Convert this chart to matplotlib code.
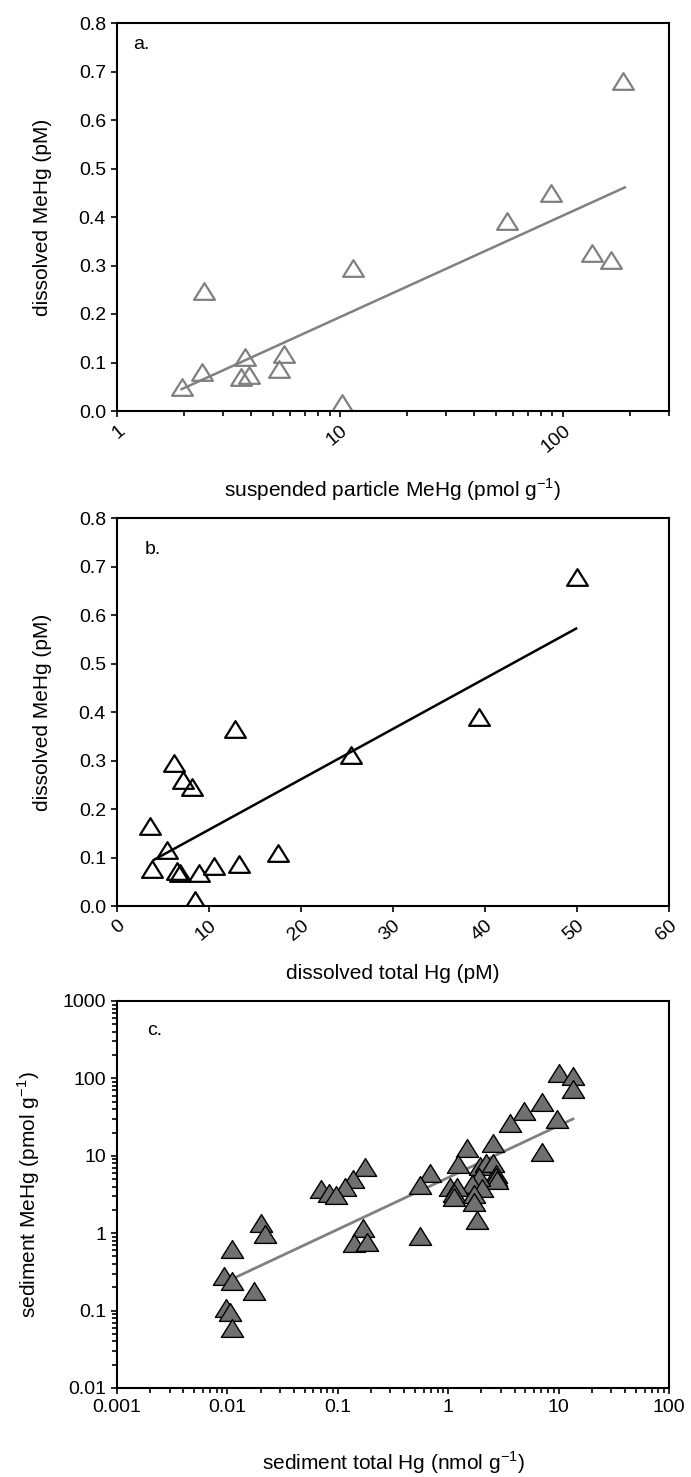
import numpy as np
import matplotlib
matplotlib.use("Agg")
import matplotlib.pyplot as plt
from matplotlib.path import Path
from matplotlib.ticker import LogLocator, FixedLocator, NullFormatter, FuncFormatter

plt.rcParams['font.family'] = ['Liberation Sans', 'DejaVu Sans']
plt.rcParams['mathtext.fontset'] = 'custom'
plt.rcParams['mathtext.rm'] = 'Liberation Sans'
plt.rcParams['axes.unicode_minus'] = False

# --- panel a: dissolved MeHg vs suspended particle MeHg ---
a_x = [187, 89, 56, 135, 165, 11.5, 2.45, 3.75, 5.6, 2.4, 3.6, 3.9, 5.35, 1.95, 10.2]
a_y = [0.680, 0.449, 0.392, 0.326, 0.311, 0.294, 0.247, 0.112, 0.117, 0.081, 0.071, 0.074, 0.086, 0.049, 0.016]
a_fit_x = [1.95, 190]
a_fit_y = [0.045, 0.461]

# --- panel b: dissolved MeHg vs dissolved total Hg ---
b_x = [50.0, 39.3, 12.8, 25.4, 6.2, 7.2, 8.2, 3.6, 5.4, 17.5, 3.8, 6.5, 6.8, 8.9, 10.5, 13.3, 8.5]
b_y = [0.679, 0.389, 0.364, 0.311, 0.294, 0.260, 0.246, 0.165, 0.115, 0.110, 0.076, 0.073, 0.069, 0.069, 0.082, 0.087, 0.012]
b_fit_x = [4.0, 49.9]
b_fit_y = [0.095, 0.572]

# --- panel c: sediment MeHg vs sediment total Hg ---
c_x = [10.1, 13.6, 13.5, 7.1, 4.87, 3.61, 9.6, 7.1, 2.56, 1.47, 1.22, 0.68, 0.55, 1.93, 2.18, 2.56,
       2.69, 2.72, 2.78, 1.90, 1.66, 2.04, 1.04, 1.21, 1.14, 1.14, 1.71, 1.72, 1.84, 0.55,
       0.178, 0.137, 0.116, 0.071, 0.083, 0.096, 0.0203, 0.0217, 0.011, 0.0093, 0.0111, 0.0175,
       0.0097, 0.0106, 0.011, 0.169, 0.141, 0.182]
c_y = [118, 107, 73, 50, 37.9, 26.3, 29.6, 11.1, 14.5, 12.5, 7.8, 6.05, 4.2, 7.45, 8.0, 8.0,
       5.8, 5.4, 4.9, 5.4, 4.3, 3.8, 3.9, 4.0, 3.3, 2.97, 3.2, 2.55, 1.48, 0.92,
       7.2, 4.97, 3.99, 3.69, 3.33, 3.12, 1.34, 0.98, 0.62, 0.28, 0.243, 0.181,
       0.107, 0.097, 0.059, 1.18, 0.74, 0.76]
c_fit_x = [0.0122, 13.5]
c_fit_y = [0.274, 29.9]

lin_ticks = [0.0, 0.1, 0.2, 0.3, 0.4, 0.5, 0.6, 0.7, 0.8]
b_xticks = [0, 10, 20, 30, 40, 50, 60]

TICK_FS = 14
LABEL_FS = 15

# flattened triangle marker
tri = Path([(-1, -0.8), (1, -0.8), (0, 0.8), (-1, -0.8)],
           [Path.MOVETO, Path.LINETO, Path.LINETO, Path.CLOSEPOLY])

W, H = 691, 1477
fig = plt.figure(figsize=(W / 100, H / 100), dpi=100)

def px_axes(top, bottom, left=117, right=669):
    return fig.add_axes([left / W, 1 - bottom / H, (right - left) / W, (bottom - top) / H])

ax_a = px_axes(23, 411)
ax_b = px_axes(518, 906)
ax_c = px_axes(1001, 1388)

for ax in (ax_a, ax_b, ax_c):
    for s in ax.spines.values():
        s.set_linewidth(1.5)
    ax.tick_params(which='both', direction='out', width=1.2, labelsize=TICK_FS,
                   top=False, right=False)
    ax.tick_params(which='major', length=4.5)
    ax.tick_params(which='minor', length=3.5)

# panel a
ax_a.plot(a_fit_x, a_fit_y, color='#808080', lw=1.8)
ax_a.plot(a_x, a_y, ls='none', marker=tri, ms=15, mfc='none', mec='#808080', mew=1.6)
ax_a.set_xscale('log')
ax_a.set_xlim(1, 300)
ax_a.set_ylim(0, 0.8)
ax_a.set_yticks(lin_ticks)
ax_a.yaxis.set_major_formatter(FuncFormatter(lambda v, p: f'{v:.1f}'))
ax_a.xaxis.set_major_locator(FixedLocator([1, 10, 100]))
ax_a.xaxis.set_minor_locator(LogLocator(base=10, subs=np.arange(2, 10), numticks=20))
ax_a.xaxis.set_minor_formatter(NullFormatter())
ax_a.xaxis.set_major_formatter(FuncFormatter(lambda v, p: f'{v:g}'))
for lab in ax_a.get_xticklabels():
    lab.set_rotation(40)
    lab.set_ha('right')
    lab.set_rotation_mode('anchor')
ax_a.text(0.03, 0.945, 'a.', transform=ax_a.transAxes, fontsize=TICK_FS, va='center')
ax_a.set_xlabel('suspended particle MeHg (pmol g$^{\\mathregular{-1}}$)', fontsize=LABEL_FS)
ax_a.set_ylabel('dissolved MeHg (pM)', fontsize=LABEL_FS)
ax_a.xaxis.set_label_coords(0.5, -0.204)
ax_a.yaxis.set_label_coords(-0.135, 0.5)

# panel b
ax_b.plot(b_fit_x, b_fit_y, color='black', lw=1.8)
ax_b.plot(b_x, b_y, ls='none', marker=tri, ms=15, mfc='none', mec='black', mew=1.6)
ax_b.set_xlim(0, 60)
ax_b.set_ylim(0, 0.8)
ax_b.set_yticks(lin_ticks)
ax_b.yaxis.set_major_formatter(FuncFormatter(lambda v, p: f'{v:.1f}'))
ax_b.set_xticks(b_xticks)
for lab in ax_b.get_xticklabels():
    lab.set_rotation(40)
    lab.set_ha('right')
    lab.set_rotation_mode('anchor')
ax_b.text(0.05, 0.918, 'b.', transform=ax_b.transAxes, fontsize=TICK_FS, va='center')
ax_b.set_xlabel('dissolved total Hg (pM)', fontsize=LABEL_FS)
ax_b.set_ylabel('dissolved MeHg (pM)', fontsize=LABEL_FS)
ax_b.xaxis.set_label_coords(0.5, -0.173)
ax_b.yaxis.set_label_coords(-0.135, 0.5)

# panel c
ax_c.plot(c_fit_x, c_fit_y, color='#808080', lw=2.0, zorder=1)
ax_c.plot(c_x, c_y, ls='none', marker=tri, ms=16, mfc='#707070', mec='black', mew=1.0, zorder=2)
ax_c.set_xscale('log')
ax_c.set_yscale('log')
ax_c.set_xlim(0.001, 100)
ax_c.set_ylim(0.01, 1000)
for axis in (ax_c.xaxis, ax_c.yaxis):
    axis.set_major_locator(LogLocator(base=10, numticks=10))
    axis.set_minor_locator(LogLocator(base=10, subs=np.arange(2, 10), numticks=50))
    axis.set_minor_formatter(NullFormatter())
    axis.set_major_formatter(FuncFormatter(lambda v, p: f'{v:g}'))
ax_c.text(0.055, 0.925, 'c.', transform=ax_c.transAxes, fontsize=TICK_FS, va='center')
ax_c.set_xlabel('sediment total Hg (nmol g$^{\\mathregular{-1}}$)', fontsize=LABEL_FS)
ax_c.set_ylabel('sediment MeHg (pmol g$^{\\mathregular{-1}}$)', fontsize=LABEL_FS)
ax_c.xaxis.set_label_coords(0.5, -0.194)
ax_c.yaxis.set_label_coords(-0.16, 0.5)

for ax in (ax_a, ax_b, ax_c):
    ax.xaxis.label.set_va('center')
    ax.yaxis.label.set_va('center')

fig.savefig('out.png', dpi=100)
